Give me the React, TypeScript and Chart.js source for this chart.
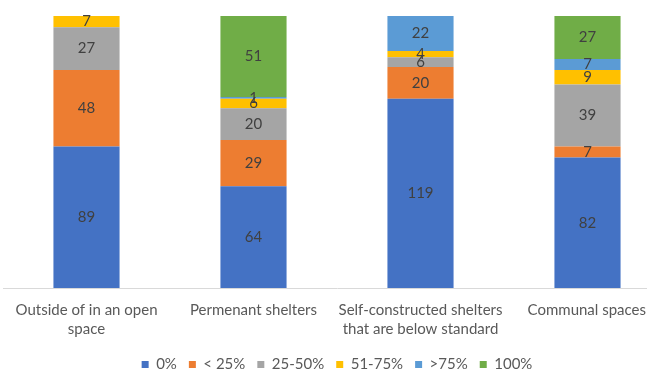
import React, { useEffect, useRef } from "react";
import { Chart, registerables } from "chart.js";

Chart.register(...registerables);

const categories: string[][] = [
  ["Outside of in an open", "space"],
  ["Permenant shelters"],
  ["Self-constructed shelters", "that are below standard"],
  ["Communal spaces"],
];
const seriesNames = ["0%", "< 25%", "25-50%", "51-75%", ">75%", "100%"];
const s0 = [89, 64, 119, 82];
const s25 = [48, 29, 20, 7];
const s50 = [27, 20, 6, 39];
const s75 = [7, 6, 4, 9];
const sOver75 = [null, 1, 22, 7];
const s100 = [null, 51, null, 27];
const seriesValues = [s0, s25, s50, s75, sOver75, s100];
const seriesColors = ["#4472C4", "#ED7D31", "#A5A5A5", "#FFC000", "#5B9BD5", "#70AD47"];
const yMax = 171;

const FONT = "Lato, 'Open Sans', sans-serif";

const dataLabelPlugin = {
  id: "dataLabels",
  afterDatasetsDraw(chart: any) {
    const ctx = chart.ctx;
    ctx.save();
    ctx.font = `15px ${FONT}`;
    ctx.fillStyle = "#404040";
    ctx.textAlign = "center";
    ctx.textBaseline = "middle";
    chart.data.datasets.forEach((ds: any, di: number) => {
      const meta = chart.getDatasetMeta(di);
      meta.data.forEach((el: any, i: number) => {
        const v = ds.data[i];
        if (v === null || v === undefined || v === 0) return;
        const { x, y, base } = el.getProps(["x", "y", "base"], true);
        ctx.fillText(String(v), x, (y + base) / 2);
      });
    });
    ctx.restore();
  },
};

const xLabelPlugin = {
  id: "xLabels",
  afterDraw(chart: any) {
    const ctx = chart.ctx;
    const xs = chart.scales.x;
    ctx.save();
    ctx.font = `15px ${FONT}`;
    ctx.fillStyle = "#595959";
    ctx.textAlign = "center";
    ctx.textBaseline = "middle";
    const visibleRight = 646;
    categories.forEach((lines, i) => {
      let cx = xs.getPixelForTick(i);
      const w = Math.max(...lines.map((l) => ctx.measureText(l).width));
      if (cx + w / 2 > visibleRight) cx = visibleRight - w / 2;
      if (cx - w / 2 < 1) cx = 1 + w / 2;
      lines.forEach((l, li) => {
        ctx.fillText(l, cx, 310 + li * 19);
      });
    });
    ctx.restore();
  },
};

export default function App() {
  const ref = useRef<HTMLCanvasElement>(null);
  useEffect(() => {
    if (!ref.current) return;
    const chart = new Chart(ref.current, {
      type: "bar",
      data: {
        labels: categories.map((c) => c.join(" ")),
        datasets: seriesNames.map((name, i) => ({
          label: name,
          data: seriesValues[i] as any,
          backgroundColor: seriesColors[i],
          borderWidth: 0,
          categoryPercentage: 0.8,
          barPercentage: 0.495,
        })),
      },
      options: {
        responsive: false,
        animation: false,
        devicePixelRatio: 1,
        layout: { padding: { top: 16, left: 3, right: 1, bottom: 0 } },
        plugins: {
          legend: {
            display: true,
            position: "bottom",
            labels: {
              boxWidth: 7,
              boxHeight: 7,
              padding: 12,
              color: "#595959",
              font: { family: FONT, size: 15 },
            },
          },
          tooltip: { enabled: false },
        },
        scales: {
          x: {
            stacked: true,
            grid: { display: false },
            border: { display: true, color: "#d9d9d9", width: 1 },
            ticks: { display: false },
            afterFit: (scale: any) => {
              scale.height = 57;
            },
          },
          y: {
            stacked: true,
            display: false,
            min: 0,
            max: yMax,
          },
        },
      },
      plugins: [dataLabelPlugin, xLabelPlugin],
    });
    return () => chart.destroy();
  }, []);
  return (
    <div
      style={{
        position: "absolute",
        left: 0,
        top: 0,
        width: 647,
        height: 372,
        overflow: "hidden",
        background: "#ffffff",
      }}
    >
      <canvas ref={ref} width={672} height={382} style={{ display: "block", width: 672, height: 382 }} />
    </div>
  );
}
